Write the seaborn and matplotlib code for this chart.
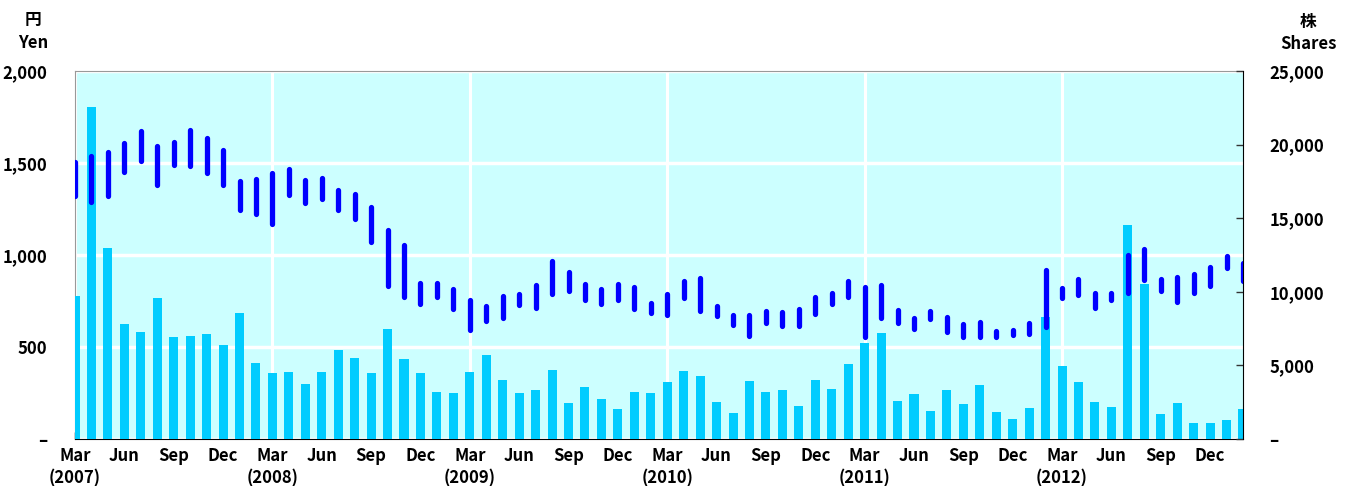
import matplotlib
matplotlib.use("Agg")
import matplotlib.pyplot as plt
import seaborn as sns
import pandas as pd

plt.rcParams['font.family'] = ['Noto Sans CJK JP', 'DejaVu Sans']

# months Mar 2007 - Feb 2013
months = [str(p) for p in pd.period_range('2007-03', periods=72, freq='M')]

# trading volume (shares, right axis)
volume = [9690, 22530, 12980, 7815, 7245, 9555, 6905, 6970, 7135, 6410, 8535, 5165,
          4460, 4550, 3760, 4560, 6020, 5525, 4485, 7475, 5435, 4485, 3165, 3125,
          4525, 5680, 3980, 3145, 3350, 4700, 2445, 3555, 2740, 2015, 3165, 3125,
          3895, 4620, 4300, 2535, 1740, 3940, 3165, 3300, 2215, 3980, 3370, 5095,
          6525, 7175, 2555, 3030, 1900, 3330, 2380, 3640, 1835, 1330, 2105, 8265,
          4960, 3895, 2535, 2195, 14540, 10530, 1720, 2465, 1110, 1110, 1290, 2010]

# monthly high / low price (yen, left axis)
high = [1506, 1539, 1561, 1608, 1673, 1593, 1615, 1682, 1636, 1571, 1401, 1415,
        1446, 1470, 1408, 1419, 1352, 1334, 1263, 1135, 1053, 850, 850, 816,
        758, 722, 776, 790, 836, 966, 908, 845, 817, 845, 825, 741,
        790, 859, 876, 722, 676, 674, 696, 689, 709, 771, 796, 861,
        827, 839, 702, 658, 698, 664, 624, 638, 589, 591, 631, 921,
        823, 870, 796, 796, 999, 1033, 868, 879, 896, 937, 995, 955]
low = [1322, 1289, 1320, 1452, 1512, 1379, 1488, 1483, 1443, 1378, 1247, 1224,
       1171, 1325, 1280, 1302, 1242, 1198, 1073, 831, 773, 731, 773, 706,
       595, 639, 659, 726, 711, 787, 802, 753, 731, 757, 704, 684,
       673, 769, 698, 666, 622, 559, 632, 612, 615, 682, 731, 773,
       552, 659, 633, 599, 653, 584, 552, 552, 557, 566, 573, 610,
       767, 780, 711, 757, 796, 862, 802, 746, 791, 833, 932, 860]

month_names = {3: 'Mar', 6: 'Jun', 9: 'Sep', 12: 'Dec'}

df = pd.DataFrame({'month': months, 'volume': volume, 'high': high, 'low': low})

fig, ax = plt.subplots(figsize=(13.49, 4.86), dpi=100)
fig.subplots_adjust(left=75 / 1349, right=1243 / 1349, top=1 - 71 / 486, bottom=1 - 439 / 486)

# background axis (yen) with grid
ax.set_facecolor('#CCFFFF')
ax.set_axisbelow(True)

# volume bars on a twin axis
axb = ax.twinx()
sns.barplot(data=df, x='month', y='volume', order=months, color='#00CCFF',
            saturation=1, width=0.55, ax=axb, linewidth=0)
axb.set_ylim(0, 25000)
axb.set_ylabel('')
axb.set_xlabel('')

# high-low price bars on top
axc = ax.twinx()
axc.sharey(ax)
axc.vlines(range(len(months)), df['low'], df['high'], color='#0000FF', lw=3.8,
           capstyle='round')
axc.yaxis.set_visible(False)

ax.set_ylim(0, 2000)
ax.set_xlim(0, len(months) - 1)

# x ticks: Mar major (with year), Jun/Sep/Dec minor
major_pos, major_lab, minor_pos, minor_lab = [], [], [], []
for i, m in enumerate(months):
    y, mo = int(m[:4]), int(m[5:])
    if mo == 3:
        major_pos.append(i)
        major_lab.append(f'Mar\n({y})')
    elif mo in month_names:
        minor_pos.append(i)
        minor_lab.append(month_names[mo])
ax.set_xticks(major_pos)
ax.set_xticklabels(major_lab, fontsize=12, fontweight='bold', linespacing=1.3)
ax.set_xticks(minor_pos, minor=True)
ax.set_xticklabels(minor_lab, minor=True, fontsize=12, fontweight='bold')
ax.tick_params(axis='x', which='major', direction='in', length=5, width=1, pad=6, color='black')
ax.tick_params(axis='x', which='minor', length=0, pad=6)

# y ticks
ax.set_yticks([0, 500, 1000, 1500, 2000])
ax.set_yticklabels(['–', '500', '1,000', '1,500', '2,000'], fontsize=12, fontweight='bold')
ax.tick_params(axis='y', length=0, pad=20)
axb.set_yticks([0, 5000, 10000, 15000, 20000, 25000])
axb.set_yticklabels(['–', '5,000', '10,000', '15,000', '20,000', '25,000'],
                    fontsize=12, fontweight='bold')
axb.tick_params(axis='y', direction='in', length=5, width=1, pad=19, color='#333333')

ax.grid(axis='x', which='major', color='white', lw=2.2)
ax.grid(axis='x', which='minor', visible=False)
ax.grid(axis='y', color='white', lw=2.5)

for s in ['left', 'top']:
    ax.spines[s].set_color('#999999')
ax.spines['bottom'].set_color('black')
ax.spines['right'].set_visible(False)
for s in ['left', 'top', 'bottom']:
    axb.spines[s].set_visible(False)
axb.spines['right'].set_color('black')
for s in axc.spines.values():
    s.set_visible(False)

# unit labels
fig.text(33 / 1349, 1 - 20 / 486, '円', ha='center', va='center', fontsize=12, fontweight='bold')
fig.text(33 / 1349, 1 - 43 / 486, 'Yen', ha='center', va='center', fontsize=12, fontweight='bold')
fig.text(1308 / 1349, 1 - 22 / 486, '株', ha='center', va='center', fontsize=12, fontweight='bold')
fig.text(1308 / 1349, 1 - 44 / 486, 'Shares', ha='center', va='center', fontsize=12, fontweight='bold')

fig.savefig('out.png', dpi=100)
